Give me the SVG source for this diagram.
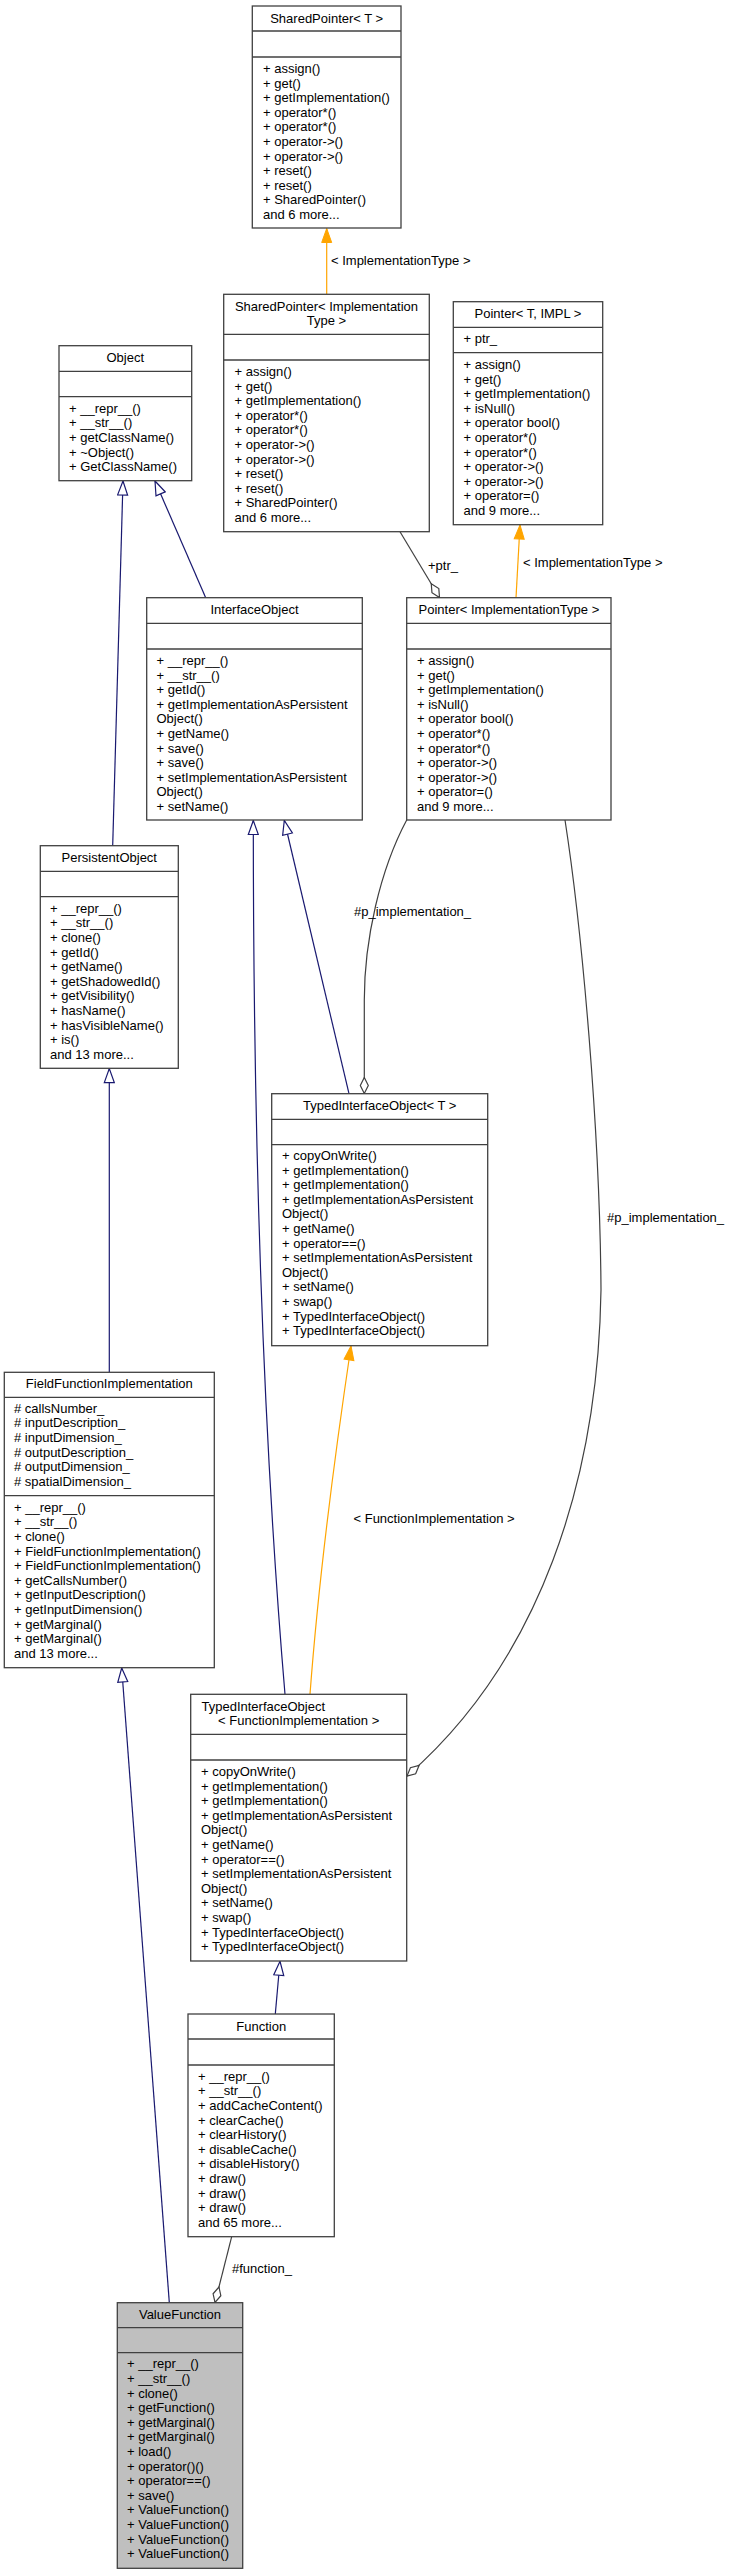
<svg xmlns="http://www.w3.org/2000/svg" width="729" height="2576" viewBox="0 0 729 2576">
<style>
text{font-family:"Liberation Sans",Arial,Helvetica,sans-serif;font-size:13px;fill:#000}
.c{text-anchor:middle}
.box{fill:#fff;stroke:#404040;stroke-width:1.3}
.sel{fill:#bfbfbf;stroke:#404040;stroke-width:1.3}
.sep{stroke:#404040;stroke-width:1.3}
.inh{fill:none;stroke:#191970;stroke-width:1.2;marker-end:url(#tri)}
.tpl{fill:none;stroke:#ffa500;stroke-width:1.2;marker-end:url(#otri)}
.mem{fill:none;stroke:#404040;stroke-width:1.2;marker-end:url(#dia)}
</style>
<defs>
<marker id="tri" markerUnits="userSpaceOnUse" markerWidth="16" markerHeight="12" refX="14" refY="5.5" orient="auto" viewBox="-1 0 16 11"><path d="M0,0.5 L14,5.5 L0,10.5 z" fill="#fff" stroke="#191970" stroke-width="1.2"/></marker>
<marker id="otri" markerUnits="userSpaceOnUse" markerWidth="16" markerHeight="12" refX="14" refY="5.5" orient="auto" viewBox="-1 0 16 11"><path d="M0,0.5 L14,5.5 L0,10.5 z" fill="#ffa500" stroke="#ffa500" stroke-width="1"/></marker>
<marker id="dia" markerUnits="userSpaceOnUse" markerWidth="18" markerHeight="10" refX="16" refY="4.5" orient="auto" viewBox="-1 0 18 9"><path d="M0,4.5 L8,0.5 L16,4.5 L8,8.5 z" fill="#fff" stroke="#404040" stroke-width="1.2"/></marker>
</defs>

<g id="connectors">
<path class="tpl" d="M326.7,294.3 L326.7,228.5"/>
<path class="tpl" d="M516,597.7 L520,525"/>
<path class="mem" d="M400,531.7 L439.5,597.5"/>
<path class="inh" d="M205.7,597.7 L155,481"/>
<path class="inh" d="M112.7,845.7 L123,481"/>
<path class="inh" d="M349,1093.7 L284.3,820.5"/>
<path class="inh" d="M285,1694.3 C260,1400 253.3,1100 253.3,820.5"/>
<path class="mem" d="M406.7,820 C380,870 364.3,940 364.3,1000 L364.3,1093.5"/>
<path class="mem" d="M565,820 C582,930 600,1130 601,1290 C598,1480 540,1660 407,1776"/>
<path class="tpl" d="M310,1694.3 C320,1560 340,1420 351,1346"/>
<path class="inh" d="M109.3,1372.3 L109.3,1068.6"/>
<path class="inh" d="M169.3,2302.5 L121.7,1668"/>
<path class="inh" d="M275.3,2014 L280,1961.3"/>
<path class="mem" d="M231.7,2236.7 L215,2302.5"/>
<text x="331" y="265">&lt; ImplementationType &gt;</text>
<text x="428" y="569.5">+ptr_</text>
<text x="523" y="567">&lt; ImplementationType &gt;</text>
<text x="354" y="916">#p_implementation_</text>
<text x="607" y="1222">#p_implementation_</text>
<text x="353.5" y="1523">&lt; FunctionImplementation &gt;</text>
<text x="232" y="2273">#function_</text>
</g>

<g id="SharedPointerT">
<rect class="box" x="252.3" y="6" width="148.7" height="222"/>
<line class="sep" x1="252.3" y1="31" x2="401" y2="31"/>
<line class="sep" x1="252.3" y1="57" x2="401" y2="57"/>
<text class="c" x="326.7" y="22.5">SharedPointer&lt; T &gt;</text>
<text x="263">
<tspan x="263" y="73">+ assign()</tspan>
<tspan x="263" y="87.6">+ get()</tspan>
<tspan x="263" y="102.2">+ getImplementation()</tspan>
<tspan x="263" y="116.8">+ operator*()</tspan>
<tspan x="263" y="131.4">+ operator*()</tspan>
<tspan x="263" y="146">+ operator-&gt;()</tspan>
<tspan x="263" y="160.6">+ operator-&gt;()</tspan>
<tspan x="263" y="175.2">+ reset()</tspan>
<tspan x="263" y="189.8">+ reset()</tspan>
<tspan x="263" y="204.4">+ SharedPointer()</tspan>
<tspan x="263" y="219">and 6 more...</tspan>
</text>
</g>

<g id="SharedPointerImpl">
<rect class="box" x="223.7" y="294.3" width="205.6" height="237.4"/>
<line class="sep" x1="223.7" y1="334.3" x2="429.3" y2="334.3"/>
<line class="sep" x1="223.7" y1="360" x2="429.3" y2="360"/>
<text class="c" x="326.5" y="311">SharedPointer&lt; Implementation</text>
<text class="c" x="326.5" y="325">Type &gt;</text>
<text>
<tspan x="234.5" y="376">+ assign()</tspan>
<tspan x="234.5" y="390.6">+ get()</tspan>
<tspan x="234.5" y="405.2">+ getImplementation()</tspan>
<tspan x="234.5" y="419.8">+ operator*()</tspan>
<tspan x="234.5" y="434.4">+ operator*()</tspan>
<tspan x="234.5" y="449">+ operator-&gt;()</tspan>
<tspan x="234.5" y="463.6">+ operator-&gt;()</tspan>
<tspan x="234.5" y="478.2">+ reset()</tspan>
<tspan x="234.5" y="492.8">+ reset()</tspan>
<tspan x="234.5" y="507.4">+ SharedPointer()</tspan>
<tspan x="234.5" y="522">and 6 more...</tspan>
</text>
</g>

<g id="PointerTIMPL">
<rect class="box" x="453.3" y="301.7" width="149.4" height="223"/>
<line class="sep" x1="453.3" y1="327.3" x2="602.7" y2="327.3"/>
<line class="sep" x1="453.3" y1="352.7" x2="602.7" y2="352.7"/>
<text class="c" x="528" y="318">Pointer&lt; T, IMPL &gt;</text>
<text x="463.5" y="343.3">+ ptr_</text>
<text>
<tspan x="463.5" y="369">+ assign()</tspan>
<tspan x="463.5" y="383.6">+ get()</tspan>
<tspan x="463.5" y="398.2">+ getImplementation()</tspan>
<tspan x="463.5" y="412.8">+ isNull()</tspan>
<tspan x="463.5" y="427.4">+ operator bool()</tspan>
<tspan x="463.5" y="442">+ operator*()</tspan>
<tspan x="463.5" y="456.6">+ operator*()</tspan>
<tspan x="463.5" y="471.2">+ operator-&gt;()</tspan>
<tspan x="463.5" y="485.8">+ operator-&gt;()</tspan>
<tspan x="463.5" y="500.4">+ operator=()</tspan>
<tspan x="463.5" y="515">and 9 more...</tspan>
</text>
</g>

<g id="Object">
<rect class="box" x="59" y="345.7" width="132.7" height="135"/>
<line class="sep" x1="59" y1="371.3" x2="191.7" y2="371.3"/>
<line class="sep" x1="59" y1="396.7" x2="191.7" y2="396.7"/>
<text class="c" x="125.3" y="362">Object</text>
<text>
<tspan x="69" y="412.7">+ __repr__()</tspan>
<tspan x="69" y="427.3">+ __str__()</tspan>
<tspan x="69" y="441.9">+ getClassName()</tspan>
<tspan x="69" y="456.5">+ ~Object()</tspan>
<tspan x="69" y="471.1">+ GetClassName()</tspan>
</text>
</g>

<g id="InterfaceObject">
<rect class="box" x="146.7" y="597.7" width="215.6" height="222.3"/>
<line class="sep" x1="146.7" y1="623.3" x2="362.3" y2="623.3"/>
<line class="sep" x1="146.7" y1="649" x2="362.3" y2="649"/>
<text class="c" x="254.5" y="613.5">InterfaceObject</text>
<text>
<tspan x="156.5" y="665">+ __repr__()</tspan>
<tspan x="156.5" y="679.6">+ __str__()</tspan>
<tspan x="156.5" y="694.2">+ getId()</tspan>
<tspan x="156.5" y="708.8">+ getImplementationAsPersistent</tspan>
<tspan x="156.5" y="723.4">Object()</tspan>
<tspan x="156.5" y="738">+ getName()</tspan>
<tspan x="156.5" y="752.6">+ save()</tspan>
<tspan x="156.5" y="767.2">+ save()</tspan>
<tspan x="156.5" y="781.8">+ setImplementationAsPersistent</tspan>
<tspan x="156.5" y="796.4">Object()</tspan>
<tspan x="156.5" y="811">+ setName()</tspan>
</text>
</g>

<g id="PointerImpl">
<rect class="box" x="406.7" y="597.7" width="204.3" height="222.3"/>
<line class="sep" x1="406.7" y1="623.3" x2="611" y2="623.3"/>
<line class="sep" x1="406.7" y1="649" x2="611" y2="649"/>
<text class="c" x="508.9" y="613.5">Pointer&lt; ImplementationType &gt;</text>
<text>
<tspan x="417" y="665">+ assign()</tspan>
<tspan x="417" y="679.6">+ get()</tspan>
<tspan x="417" y="694.2">+ getImplementation()</tspan>
<tspan x="417" y="708.8">+ isNull()</tspan>
<tspan x="417" y="723.4">+ operator bool()</tspan>
<tspan x="417" y="738">+ operator*()</tspan>
<tspan x="417" y="752.6">+ operator*()</tspan>
<tspan x="417" y="767.2">+ operator-&gt;()</tspan>
<tspan x="417" y="781.8">+ operator-&gt;()</tspan>
<tspan x="417" y="796.4">+ operator=()</tspan>
<tspan x="417" y="811">and 9 more...</tspan>
</text>
</g>

<g id="PersistentObject">
<rect class="box" x="40.3" y="845.7" width="138" height="222.6"/>
<line class="sep" x1="40.3" y1="871.3" x2="178.3" y2="871.3"/>
<line class="sep" x1="40.3" y1="896.7" x2="178.3" y2="896.7"/>
<text class="c" x="109.3" y="862">PersistentObject</text>
<text>
<tspan x="50" y="912.7">+ __repr__()</tspan>
<tspan x="50" y="927.3">+ __str__()</tspan>
<tspan x="50" y="941.9">+ clone()</tspan>
<tspan x="50" y="956.5">+ getId()</tspan>
<tspan x="50" y="971.1">+ getName()</tspan>
<tspan x="50" y="985.7">+ getShadowedId()</tspan>
<tspan x="50" y="1000.3">+ getVisibility()</tspan>
<tspan x="50" y="1014.9">+ hasName()</tspan>
<tspan x="50" y="1029.5">+ hasVisibleName()</tspan>
<tspan x="50" y="1044.1">+ is()</tspan>
<tspan x="50" y="1058.7">and 13 more...</tspan>
</text>
</g>

<g id="TypedInterfaceObjectT">
<rect class="box" x="271.7" y="1093.7" width="216" height="252"/>
<line class="sep" x1="271.7" y1="1119.3" x2="487.7" y2="1119.3"/>
<line class="sep" x1="271.7" y1="1144.7" x2="487.7" y2="1144.7"/>
<text class="c" x="379.7" y="1110">TypedInterfaceObject&lt; T &gt;</text>
<text>
<tspan x="282" y="1160">+ copyOnWrite()</tspan>
<tspan x="282" y="1174.6">+ getImplementation()</tspan>
<tspan x="282" y="1189.2">+ getImplementation()</tspan>
<tspan x="282" y="1203.8">+ getImplementationAsPersistent</tspan>
<tspan x="282" y="1218.4">Object()</tspan>
<tspan x="282" y="1233">+ getName()</tspan>
<tspan x="282" y="1247.6">+ operator==()</tspan>
<tspan x="282" y="1262.2">+ setImplementationAsPersistent</tspan>
<tspan x="282" y="1276.8">Object()</tspan>
<tspan x="282" y="1291.4">+ setName()</tspan>
<tspan x="282" y="1306">+ swap()</tspan>
<tspan x="282" y="1320.6">+ TypedInterfaceObject()</tspan>
<tspan x="282" y="1335.2">+ TypedInterfaceObject()</tspan>
</text>
</g>

<g id="FieldFunctionImplementation">
<rect class="box" x="4.3" y="1372.3" width="210" height="295.4"/>
<line class="sep" x1="4.3" y1="1397.3" x2="214.3" y2="1397.3"/>
<line class="sep" x1="4.3" y1="1495.7" x2="214.3" y2="1495.7"/>
<text class="c" x="109.3" y="1388">FieldFunctionImplementation</text>
<text>
<tspan x="14" y="1412.7"># callsNumber_</tspan>
<tspan x="14" y="1427.3"># inputDescription_</tspan>
<tspan x="14" y="1441.9"># inputDimension_</tspan>
<tspan x="14" y="1456.5"># outputDescription_</tspan>
<tspan x="14" y="1471.1"># outputDimension_</tspan>
<tspan x="14" y="1485.7"># spatialDimension_</tspan>
</text>
<text>
<tspan x="14" y="1511.7">+ __repr__()</tspan>
<tspan x="14" y="1526.3">+ __str__()</tspan>
<tspan x="14" y="1540.9">+ clone()</tspan>
<tspan x="14" y="1555.5">+ FieldFunctionImplementation()</tspan>
<tspan x="14" y="1570.1">+ FieldFunctionImplementation()</tspan>
<tspan x="14" y="1584.7">+ getCallsNumber()</tspan>
<tspan x="14" y="1599.3">+ getInputDescription()</tspan>
<tspan x="14" y="1613.9">+ getInputDimension()</tspan>
<tspan x="14" y="1628.5">+ getMarginal()</tspan>
<tspan x="14" y="1643.1">+ getMarginal()</tspan>
<tspan x="14" y="1657.7">and 13 more...</tspan>
</text>
</g>

<g id="TypedInterfaceObjectFI">
<rect class="box" x="190.7" y="1694.3" width="216" height="266.7"/>
<line class="sep" x1="190.7" y1="1734.3" x2="406.7" y2="1734.3"/>
<line class="sep" x1="190.7" y1="1760" x2="406.7" y2="1760"/>
<text x="201.5" y="1711">TypedInterfaceObject</text>
<text class="c" x="298.7" y="1725">&lt; FunctionImplementation &gt;</text>
<text>
<tspan x="201" y="1776">+ copyOnWrite()</tspan>
<tspan x="201" y="1790.6">+ getImplementation()</tspan>
<tspan x="201" y="1805.2">+ getImplementation()</tspan>
<tspan x="201" y="1819.8">+ getImplementationAsPersistent</tspan>
<tspan x="201" y="1834.4">Object()</tspan>
<tspan x="201" y="1849">+ getName()</tspan>
<tspan x="201" y="1863.6">+ operator==()</tspan>
<tspan x="201" y="1878.2">+ setImplementationAsPersistent</tspan>
<tspan x="201" y="1892.8">Object()</tspan>
<tspan x="201" y="1907.4">+ setName()</tspan>
<tspan x="201" y="1922">+ swap()</tspan>
<tspan x="201" y="1936.6">+ TypedInterfaceObject()</tspan>
<tspan x="201" y="1951.2">+ TypedInterfaceObject()</tspan>
</text>
</g>

<g id="Function">
<rect class="box" x="188" y="2014" width="146.3" height="222.7"/>
<line class="sep" x1="188" y1="2039" x2="334.3" y2="2039"/>
<line class="sep" x1="188" y1="2065" x2="334.3" y2="2065"/>
<text class="c" x="261.2" y="2030.5">Function</text>
<text>
<tspan x="198" y="2080.7">+ __repr__()</tspan>
<tspan x="198" y="2095.3">+ __str__()</tspan>
<tspan x="198" y="2109.9">+ addCacheContent()</tspan>
<tspan x="198" y="2124.5">+ clearCache()</tspan>
<tspan x="198" y="2139.1">+ clearHistory()</tspan>
<tspan x="198" y="2153.7">+ disableCache()</tspan>
<tspan x="198" y="2168.3">+ disableHistory()</tspan>
<tspan x="198" y="2182.9">+ draw()</tspan>
<tspan x="198" y="2197.5">+ draw()</tspan>
<tspan x="198" y="2212.1">+ draw()</tspan>
<tspan x="198" y="2226.7">and 65 more...</tspan>
</text>
</g>

<g id="ValueFunction">
<rect class="sel" x="117.3" y="2302.7" width="125.4" height="265.6"/>
<line class="sep" x1="117.3" y1="2327.7" x2="242.7" y2="2327.7"/>
<line class="sep" x1="117.3" y1="2352.7" x2="242.7" y2="2352.7"/>
<text class="c" x="180" y="2318.5">ValueFunction</text>
<text>
<tspan x="127" y="2368.3">+ __repr__()</tspan>
<tspan x="127" y="2382.9">+ __str__()</tspan>
<tspan x="127" y="2397.5">+ clone()</tspan>
<tspan x="127" y="2412.1">+ getFunction()</tspan>
<tspan x="127" y="2426.7">+ getMarginal()</tspan>
<tspan x="127" y="2441.3">+ getMarginal()</tspan>
<tspan x="127" y="2455.9">+ load()</tspan>
<tspan x="127" y="2470.5">+ operator()()</tspan>
<tspan x="127" y="2485.1">+ operator==()</tspan>
<tspan x="127" y="2499.7">+ save()</tspan>
<tspan x="127" y="2514.3">+ ValueFunction()</tspan>
<tspan x="127" y="2528.9">+ ValueFunction()</tspan>
<tspan x="127" y="2543.5">+ ValueFunction()</tspan>
<tspan x="127" y="2558.1">+ ValueFunction()</tspan>
</text>
</g>
</svg>
